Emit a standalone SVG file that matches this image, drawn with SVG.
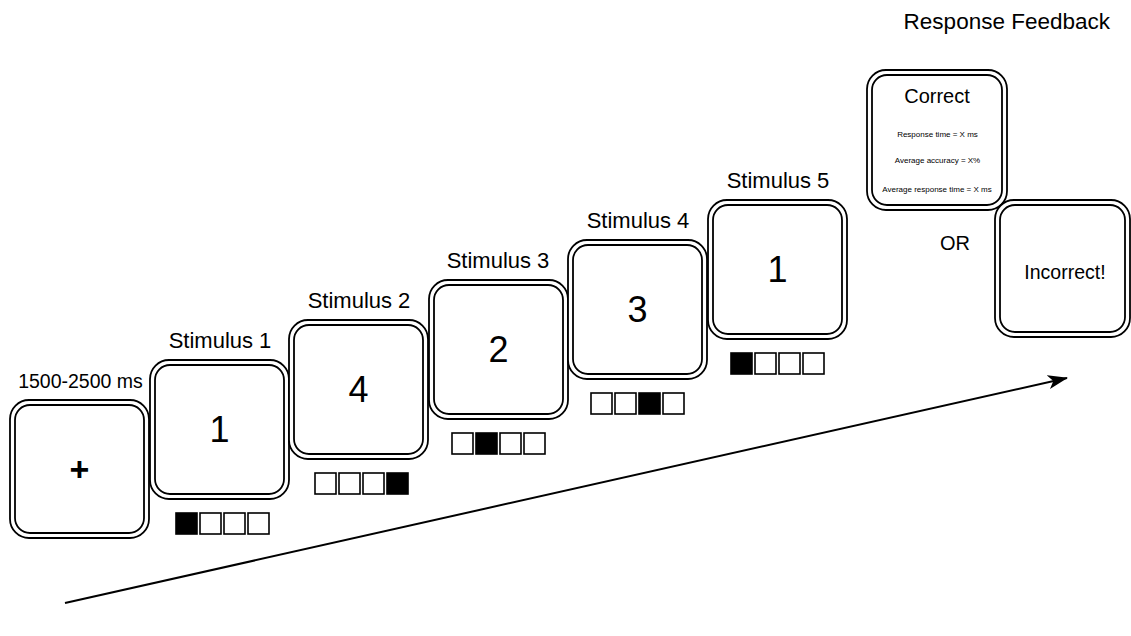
<svg xmlns="http://www.w3.org/2000/svg" width="1131" height="636" viewBox="0 0 1131 636">
<defs>
<style>
text{font-family:"Liberation Sans",Arial,sans-serif;fill:#000}
.outer{fill:#fff;stroke:#000;stroke-width:1.8}
.inner{fill:none;stroke:#000;stroke-width:1.8}
.lbl{font-size:22px;text-anchor:middle}
.num{font-size:36px;text-anchor:middle}
.sq{fill:#fff;stroke:#000;stroke-width:1.6}
.sqf{fill:#000;stroke:#000;stroke-width:1.6}
.small{font-size:8px;text-anchor:middle}
</style>
<marker id="ah" viewBox="0 0 20 14" refX="19" refY="7" markerWidth="20" markerHeight="14" markerUnits="userSpaceOnUse" orient="auto">
<path d="M0,0 L20,7 L0,14 L5,7 Z" fill="#000"/>
</marker>
</defs>
<rect width="1131" height="636" fill="#fff"/>

<g id="connectors">
<line x1="65" y1="603" x2="1067" y2="378" stroke="#000" stroke-width="2" marker-end="url(#ah)"/>
</g>

<g id="fixation">
<text x="80.5" y="388" style="font-size:19.5px;text-anchor:middle">1500-2500 ms</text>
<rect class="outer" x="10" y="400" width="139" height="138" rx="19"/>
<rect class="inner" x="15" y="405" width="129" height="128" rx="15"/>
<text x="79.5" y="481" style="font-size:34px;font-weight:bold;text-anchor:middle">+</text>
</g>

<g id="stimulus1">
<text class="lbl" x="220" y="348">Stimulus 1</text>
<rect class="outer" x="150" y="360" width="139" height="139" rx="19"/>
<rect class="inner" x="155" y="365" width="129" height="129" rx="15"/>
<text class="num" x="219.5" y="442">1</text>
<rect class="sqf" x="176" y="513" width="21" height="21"/>
<rect class="sq" x="200" y="513" width="21" height="21"/>
<rect class="sq" x="224" y="513" width="21" height="21"/>
<rect class="sq" x="248" y="513" width="21" height="21"/>
</g>

<g id="stimulus2">
<text class="lbl" x="359" y="308">Stimulus 2</text>
<rect class="outer" x="289" y="320" width="139" height="139" rx="19"/>
<rect class="inner" x="294" y="325" width="129" height="129" rx="15"/>
<text class="num" x="358.5" y="402">4</text>
<rect class="sq" x="315" y="473" width="21" height="21"/>
<rect class="sq" x="339" y="473" width="21" height="21"/>
<rect class="sq" x="363" y="473" width="21" height="21"/>
<rect class="sqf" x="387" y="473" width="21" height="21"/>
</g>

<g id="stimulus3">
<text class="lbl" x="498" y="268">Stimulus 3</text>
<rect class="outer" x="429" y="280" width="139" height="139" rx="19"/>
<rect class="inner" x="434" y="285" width="129" height="129" rx="15"/>
<text class="num" x="498.5" y="362">2</text>
<rect class="sq" x="452" y="433" width="21" height="21"/>
<rect class="sqf" x="476" y="433" width="21" height="21"/>
<rect class="sq" x="500" y="433" width="21" height="21"/>
<rect class="sq" x="524" y="433" width="21" height="21"/>
</g>

<g id="stimulus4">
<text class="lbl" x="638" y="228">Stimulus 4</text>
<rect class="outer" x="568" y="240" width="139" height="139" rx="19"/>
<rect class="inner" x="573" y="245" width="129" height="129" rx="15"/>
<text class="num" x="637.5" y="322">3</text>
<rect class="sq" x="591" y="393" width="21" height="21"/>
<rect class="sq" x="615" y="393" width="21" height="21"/>
<rect class="sqf" x="639" y="393" width="21" height="21"/>
<rect class="sq" x="663" y="393" width="21" height="21"/>
</g>

<g id="stimulus5">
<text class="lbl" x="778" y="188">Stimulus 5</text>
<rect class="outer" x="708" y="200" width="139" height="139" rx="19"/>
<rect class="inner" x="713" y="205" width="129" height="129" rx="15"/>
<text class="num" x="777.5" y="282">1</text>
<rect class="sqf" x="731" y="353" width="21" height="21"/>
<rect class="sq" x="755" y="353" width="21" height="21"/>
<rect class="sq" x="779" y="353" width="21" height="21"/>
<rect class="sq" x="803" y="353" width="21" height="21"/>
</g>

<g id="feedback-title">
<text x="1110" y="29" style="font-size:22.5px;text-anchor:end">Response Feedback</text>
</g>

<g id="correct">
<rect class="outer" x="867" y="70" width="140" height="140" rx="19"/>
<rect class="inner" x="872" y="75" width="130" height="130" rx="15"/>
<text x="937" y="103" style="font-size:20px;text-anchor:middle">Correct</text>
<text class="small" x="937.5" y="137">Response time = X ms</text>
<text class="small" x="937.5" y="163">Average accuracy = X%</text>
<text class="small" x="937" y="192">Average response time = X ms</text>
</g>

<g id="or">
<text x="955" y="250" style="font-size:20px;text-anchor:middle">OR</text>
</g>

<g id="incorrect">
<rect class="outer" x="995" y="200" width="135" height="137" rx="19"/>
<rect class="inner" x="1000" y="205" width="125" height="127" rx="15"/>
<text x="1065" y="279" style="font-size:19.5px;text-anchor:middle">Incorrect!</text>
</g>
</svg>
